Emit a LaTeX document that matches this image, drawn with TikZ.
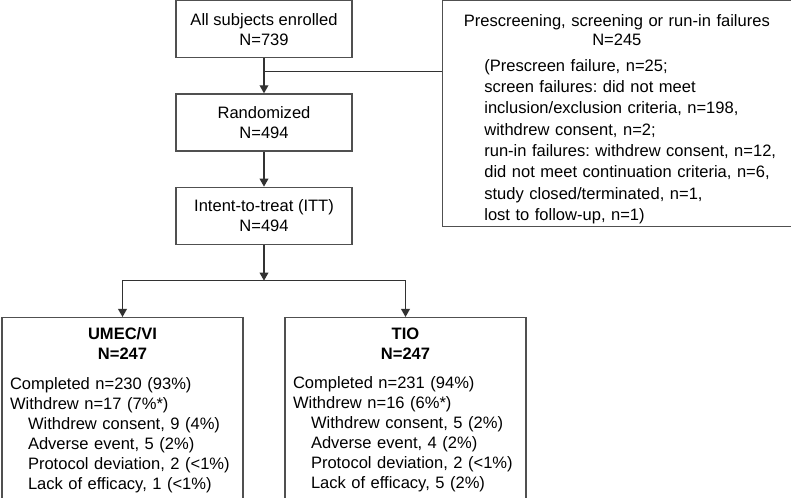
\documentclass[tikz,border=0pt]{standalone}
\usepackage{fontspec}
\setmainfont{Liberation Sans}
\usepackage{tikz}
\usetikzlibrary{arrows.meta, positioning}
\definecolor{edgegray}{RGB}{80, 80, 80}
\definecolor{flowgray}{RGB}{50, 50, 50}
\frenchspacing

\begin{document}
\begin{tikzpicture}[
    stagebox/.style = {rectangle, draw=edgegray, line width=1pt,
                       minimum width=132pt, minimum height=42.75pt,
                       align=center, inner sep=2pt,
                       font=\fontsize{12.4}{15}\selectfont},
    failbox/.style  = {rectangle, draw=edgegray, line width=1pt,
                       text width=249.75pt, minimum height=166.5pt,
                       inner xsep=6pt, inner ysep=2pt, align=left,
                       font=\fontsize{12.4}{16}\selectfont},
    armbox/.style   = {rectangle, draw=edgegray, line width=1pt,
                       text width=168.75pt, minimum height=138.75pt,
                       inner xsep=6pt, inner ysep=2pt, align=left,
                       font=\fontsize{12.4}{15}\selectfont},
    arrow/.style    = {-{Triangle[width=6.5pt, length=6pt]},
                       line width=1pt, color=flowgray},
    link/.style     = {line width=1pt, color=flowgray},
]

\useasboundingbox (0,0) rectangle (593.25pt,-373.5pt);

\node[stagebox, anchor=north] (enrol) at (198pt,0pt)
    {All subjects enrolled\\N=739};
\node[stagebox, below=26.25pt of enrol] (rand) {Randomized\\N=494};
\node[stagebox, below=26.25pt of rand]  (itt)  {Intent-to-treat (ITT)\\N=494};

% taller strut on the first line pushes the text down a little
\node[failbox, right=66.75pt of enrol.north east, anchor=north west] (fail)
    {{\centering\fontsize{12.4}{14.5}\selectfont
      \rule{0pt}{17.5pt}Prescreening, screening or run-in failures\\N=245\par}
     \vspace{3pt}
     {\leftskip=25.5pt
     (Prescreen failure, n=25;\\
     screen failures: did not meet\\
     inclusion/exclusion criteria, n=198,\\
     withdrew consent, n=2;\\
     run-in failures: withdrew consent, n=12,\\
     did not meet continuation criteria, n=6,\\
     study closed/terminated, n=1,\\
     lost to follow-up, n=1)\par}};

\node[armbox, below=54pt of itt, xshift=-106.125pt] (umec)
    {{\centering\bfseries UMEC/VI\\N=247\par}
     \vspace{7pt}
     Completed n=230 (93\%)\\
     Withdrew n=17 (7\%*)\\
     {\leftskip=13.5pt
     Withdrew consent, 9 (4\%)\\
     Adverse event, 5 (2\%)\\
     Protocol deviation, 2 (<1\%)\\
     Lack of efficacy, 1 (<1\%)\par}};
\node[armbox, below=54pt of itt, xshift=106.125pt] (tio)
    {{\centering\bfseries TIO\\N=247\par}
     \vspace{7pt}
     Completed n=231 (94\%)\\
     Withdrew n=16 (6\%*)\\
     {\leftskip=13.5pt
     Withdrew consent, 5 (2\%)\\
     Adverse event, 4 (2\%)\\
     Protocol deviation, 2 (<1\%)\\
     Lack of efficacy, 5 (2\%)\par}};

\coordinate[below=10pt of enrol] (split);
\coordinate[below=26.75pt of itt] (fork);

\draw[arrow] (enrol) -- (rand);
\draw[link]  (split) -- (split -| fail.west);
\draw[arrow] (rand) -- (itt);
\draw[arrow] (itt) -- (fork);
\draw[arrow] (fork) -| (umec);
\draw[arrow] (fork) -| (tio);
\end{tikzpicture}
\end{document}
